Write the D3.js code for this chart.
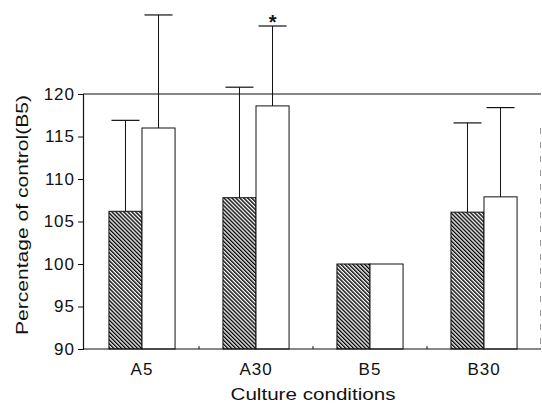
<!DOCTYPE html>
<html>
<head>
<meta charset="utf-8">
<script src="https://cdn.jsdelivr.net/npm/d3@7"></script>
<style>
  body { margin: 0; background: #fff; }
  text { font-family: "Liberation Sans", Arial, sans-serif; fill: #111; }
</style>
</head>
<body>
<svg id="chart" width="542" height="407"></svg>
<script>
// data
const conditions = ["A5", "A30", "B5", "B30"];
const series = ["hatched", "open"];
const hatchedMean = [106.2, 107.8, 100, 106.1];
const openMean = [116.0, 118.6, 100, 107.9];
const hatchedSD = [10.7, 13.0, 0, 10.5];
const openSD = [13.3, 9.4, 0, 10.5];
const significant = ["A30:open"];
const yTicks = [90, 95, 100, 105, 110, 115, 120];

const svg = d3.select("#chart");
const margin = {top: 94, right: 1, bottom: 58, left: 83};
const width = +svg.attr("width"), height = +svg.attr("height");
const x0 = margin.left, x1 = width - margin.right;
const yBottom = height - margin.bottom;

// build rows from the arrays
const rows = conditions.map((c, i) => ({
  cond: c,
  bars: [
    {cond: c, key: "hatched", mean: hatchedMean[i], sd: hatchedSD[i]},
    {cond: c, key: "open", mean: openMean[i], sd: openSD[i]}
  ]
}));

const x = d3.scaleBand()
  .domain(conditions)
  .range([x0 + 2, x1])
  .paddingInner(0.42)
  .paddingOuter(0.21);

const xs = d3.scaleBand()
  .domain(series)
  .range([0, x.bandwidth()]);

const y = d3.scaleLinear()
  .domain([90, 120])
  .range([yBottom, margin.top]);

// hatch pattern: lines running top-left to bottom-right
svg.append("defs").append("pattern")
  .attr("id", "hatch")
  .attr("patternUnits", "userSpaceOnUse")
  .attr("width", 2.8).attr("height", 10)
  .attr("patternTransform", "rotate(-45)")
  .append("rect")
  .attr("x", 0).attr("y", 0)
  .attr("width", 1.4).attr("height", 10)
  .attr("fill", "#000");

// faint right border from the scan
svg.append("line")
  .attr("x1", x1 - 0.5).attr("x2", x1 - 0.5)
  .attr("y1", y(116)).attr("y2", yBottom)
  .attr("stroke", "#999")
  .attr("stroke-dasharray", "6,8");

// top frame line at 120
svg.append("line")
  .attr("x1", x0).attr("x2", x1)
  .attr("y1", y(120)).attr("y2", y(120))
  .attr("stroke", "#111")
  .attr("stroke-width", 1.2);

// bars
const groups = svg.append("g")
  .selectAll("g")
  .data(rows)
  .join("g")
  .attr("transform", d => `translate(${x(d.cond)},0)`);

groups.selectAll("rect")
  .data(d => d.bars)
  .join("rect")
  .attr("x", d => xs(d.key))
  .attr("y", d => y(d.mean))
  .attr("width", xs.bandwidth())
  .attr("height", d => yBottom - y(d.mean))
  .attr("fill", d => d.key === "hatched" ? "url(#hatch)" : "#fff")
  .attr("stroke", "#111")
  .attr("stroke-width", 1);

// error bars (upper only)
const capW = 28;
const err = groups.selectAll("g.err")
  .data(d => d.bars.filter(b => b.sd > 0))
  .join("g")
  .attr("class", "err");

err.append("line")
  .attr("x1", d => xs(d.key) + xs.bandwidth() / 2)
  .attr("x2", d => xs(d.key) + xs.bandwidth() / 2)
  .attr("y1", d => y(d.mean))
  .attr("y2", d => y(d.mean + d.sd))
  .attr("stroke", "#111")
  .attr("stroke-width", 1);

err.append("line")
  .attr("x1", d => xs(d.key) + xs.bandwidth() / 2 - capW / 2)
  .attr("x2", d => xs(d.key) + xs.bandwidth() / 2 + capW / 2)
  .attr("y1", d => y(d.mean + d.sd))
  .attr("y2", d => y(d.mean + d.sd))
  .attr("stroke", "#111")
  .attr("stroke-width", 1.2);

err.filter(d => significant.includes(d.cond + ":" + d.key))
  .append("text")
  .attr("x", d => xs(d.key) + xs.bandwidth() / 2)
  .attr("y", d => y(d.mean + d.sd) + 3)
  .attr("text-anchor", "middle")
  .style("font-size", "20px")
  .style("font-weight", "bold")
  .text("*");

// y axis
const yAxis = svg.append("g")
  .attr("transform", `translate(${x0},0)`)
  .call(d3.axisLeft(y).tickValues(yTicks).tickSize(5).tickPadding(3));
yAxis.select(".domain").attr("stroke", "#111").attr("stroke-width", 1.2);
yAxis.selectAll(".tick line").attr("stroke", "#111");
yAxis.selectAll("text")
  .style("font-size", "17px")
  .style("letter-spacing", "1px")
  .attr("fill", "#111");

// x axis
const xAxis = svg.append("g")
  .attr("transform", `translate(0,${yBottom})`)
  .call(d3.axisBottom(x).tickSize(0).tickPadding(14).tickSizeOuter(0));
xAxis.select(".domain").attr("d", `M${x0},0H${x1}`).attr("stroke", "#111").attr("stroke-width", 1.2);
xAxis.selectAll("text")
  .style("font-size", "17px")
  .style("letter-spacing", "1px")
  .attr("fill", "#111");

// little ticks between the groups
const bounds = conditions.slice(1).map(c => x(c) - x.step() * x.paddingInner() / 2);
svg.append("g")
  .selectAll("line")
  .data(bounds)
  .join("line")
  .attr("x1", d => d).attr("x2", d => d)
  .attr("y1", yBottom).attr("y2", yBottom - 3)
  .attr("stroke", "#111");

// axis titles
svg.append("text")
  .attr("x", (x0 + x1) / 2 + 1)
  .attr("y", 400)
  .attr("text-anchor", "middle")
  .attr("textLength", 165)
  .attr("lengthAdjust", "spacingAndGlyphs")
  .style("font-size", "16px")
  .text("Culture conditions");

svg.append("text")
  .attr("transform", `translate(28,${(95 + 335) / 2}) rotate(-90)`)
  .attr("text-anchor", "middle")
  .attr("textLength", 240)
  .attr("lengthAdjust", "spacingAndGlyphs")
  .style("font-size", "16px")
  .text("Percentage of control(B5)");
</script>
</body>
</html>
